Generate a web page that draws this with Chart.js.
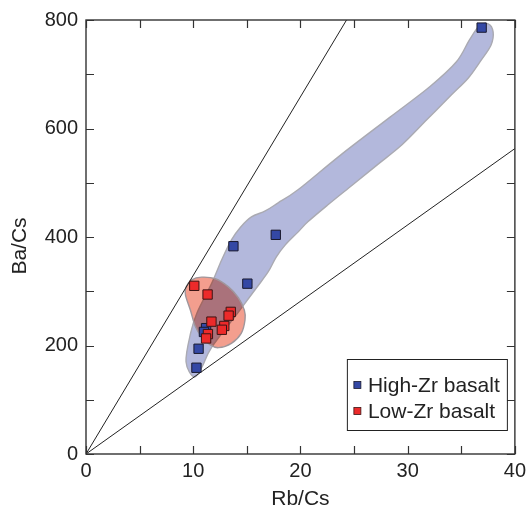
<!DOCTYPE html>
<html>
<head>
<meta charset="utf-8">
<script src="https://cdn.jsdelivr.net/npm/chart.js@4/dist/chart.umd.min.js"></script>
<style>
  html, body { margin: 0; padding: 0; background: #fff; }
  canvas { display: block; }
</style>
</head>
<body>
<canvas id="myChart" width="531" height="510"></canvas>
<script>
// samples
const highZrX = [36.9, 17.7, 13.75, 15.05, 11.2, 11.0, 10.5, 10.3];
const highZrY = [786, 404, 383, 314, 232, 225, 194, 159];
const lowZrX = [10.1, 11.34, 13.5, 13.3, 11.7, 12.9, 12.67, 11.37, 11.2];
const lowZrY = [310, 294, 262, 255, 244, 236, 229, 221, 213];

// outlines of the two fields (Rb/Cs, Ba/Cs)
const highFieldX = [10.07, 9.33, 9.76, 10.35, 11.73, 12.66, 13.58, 14.41, 15.43, 16.72, 17.92, 19.77, 23.74, 28.36, 32.06, 34.55, 35.75, 36.67, 37.51, 37.97, 37.78, 36.86, 35.66, 34.09, 31.78, 29.47, 27.16, 24.85, 22.54, 20.69, 19.77, 18.57, 17.74, 17.0, 15.89, 14.23, 11.73, 10.81];
const highFieldY = [142, 170, 223, 260, 315, 358, 395, 418, 437, 448, 463, 487, 551, 621, 677, 723, 763, 789, 793, 778, 754, 726, 693, 662, 616, 570, 533, 496, 459, 428, 409, 385, 363, 336, 306, 262, 197, 160];
const lowFieldX = [10.79, 12.06, 13.29, 14.21, 14.77, 14.83, 14.49, 13.56, 12.36, 11.59, 10.79, 10.2, 9.74, 9.28, 9.33, 9.86];
const lowFieldY = [326, 323, 308, 288, 265, 247, 223, 204, 196, 201, 216, 235, 265, 293, 308, 321];

// reference lines through the origin
const steepLineX = [0, 24.3];
const steepLineY = [0, 800];
const flatLineX = [0, 40];
const flatLineY = [0, 563];

const xTicks = [0, 10, 20, 30, 40];
const yTicks = [0, 200, 400, 600, 800];

const FONT = "'Liberation Sans', Arial, Helvetica, sans-serif";

function toPoints(xs, ys) {
  return xs.map((x, i) => ({ x: x, y: ys[i] }));
}

// closed smooth path (catmull-rom) through the outline
function traceField(ctx, xs, ys, sx, sy) {
  const pts = xs.map((x, i) => [sx.getPixelForValue(x), sy.getPixelForValue(ys[i])]);
  const n = pts.length;
  ctx.beginPath();
  ctx.moveTo(pts[0][0], pts[0][1]);
  for (let i = 0; i < n; i++) {
    const p0 = pts[(i - 1 + n) % n];
    const p1 = pts[i];
    const p2 = pts[(i + 1) % n];
    const p3 = pts[(i + 2) % n];
    ctx.bezierCurveTo(
      p1[0] + (p2[0] - p0[0]) / 6, p1[1] + (p2[1] - p0[1]) / 6,
      p2[0] - (p3[0] - p1[0]) / 6, p2[1] - (p3[1] - p1[1]) / 6,
      p2[0], p2[1]
    );
  }
  ctx.closePath();
}

const fieldsPlugin = {
  id: "fields",
  beforeDatasetsDraw(chart) {
    const { ctx, chartArea, scales } = chart;
    ctx.save();
    ctx.beginPath();
    ctx.rect(chartArea.left, chartArea.top, chartArea.right - chartArea.left, chartArea.bottom - chartArea.top);
    ctx.clip();

    traceField(ctx, highFieldX, highFieldY, scales.x, scales.y);
    ctx.fillStyle = "rgb(179,184,220)";
    ctx.fill();
    ctx.strokeStyle = "rgb(170,170,178)";
    ctx.lineWidth = 1.4;
    ctx.stroke();

    traceField(ctx, lowFieldX, lowFieldY, scales.x, scales.y);
    ctx.globalCompositeOperation = "multiply";
    ctx.fillStyle = "rgb(243,158,142)";
    ctx.fill();
    ctx.globalCompositeOperation = "source-over";
    ctx.strokeStyle = "rgb(160,150,155)";
    ctx.lineWidth = 1.4;
    ctx.stroke();
    ctx.restore();
  },
};

// frame, inward ticks, y title, legend box
const framePlugin = {
  id: "frame",
  afterDatasetsDraw(chart) {
    const { ctx, chartArea, scales } = chart;
    const { left, right, top, bottom } = chartArea;
    const len = 8;
    ctx.save();
    ctx.strokeStyle = "#333";
    ctx.lineWidth = 1.2;
    ctx.beginPath();
    scales.x.ticks.forEach((t) => {
      const px = Math.round(scales.x.getPixelForValue(t.value)) + 0.5;
      ctx.moveTo(px, bottom); ctx.lineTo(px, bottom - len);
      ctx.moveTo(px, top); ctx.lineTo(px, top + len);
    });
    scales.y.ticks.forEach((t) => {
      const py = Math.round(scales.y.getPixelForValue(t.value)) + 0.5;
      ctx.moveTo(left, py); ctx.lineTo(left + len, py);
      ctx.moveTo(right, py); ctx.lineTo(right - len, py);
    });
    ctx.stroke();
    ctx.lineWidth = 1.4;
    ctx.strokeRect(left, top, right - left, bottom - top);

    // y axis title
    ctx.fillStyle = "#222";
    ctx.font = "21px " + FONT;
    ctx.textAlign = "center";
    ctx.textBaseline = "middle";
    ctx.translate(20, 246);
    ctx.rotate(-Math.PI / 2);
    ctx.fillText("Ba/Cs", 0, 0);
    ctx.restore();

    // legend
    ctx.save();
    const bx = right - 168, by = bottom - 95, bw = 160, bh = 71;
    ctx.fillStyle = "#fff";
    ctx.fillRect(bx, by, bw, bh);
    ctx.strokeStyle = "#222";
    ctx.lineWidth = 1;
    ctx.strokeRect(bx + 0.5, by + 0.5, bw, bh);
    ctx.font = "21px " + FONT;
    ctx.textAlign = "left";
    ctx.textBaseline = "middle";
    chart.data.datasets.slice(0, 2).forEach((ds, i) => {
      const cy = by + 26 + i * 26;
      ctx.fillStyle = ds.backgroundColor;
      ctx.fillRect(bx + 7, cy - 3.5, 7, 7);
      ctx.strokeStyle = ds.borderColor;
      ctx.lineWidth = 0.8;
      ctx.strokeRect(bx + 7, cy - 3.5, 7, 7);
      ctx.fillStyle = "#222";
      ctx.fillText(ds.label, bx + 21, cy + 1);
    });
    ctx.restore();
  },
};

function displayChart() {
  const data = {
    datasets: [
      {
        label: "High-Zr basalt",
        data: toPoints(highZrX, highZrY),
        backgroundColor: "rgb(52,72,165)",
        borderColor: "rgb(25,25,45)",
        borderWidth: 1,
        pointStyle: "rect",
        pointRadius: 6.6,
        order: 2,
      },
      {
        label: "Low-Zr basalt",
        data: toPoints(lowZrX, lowZrY),
        backgroundColor: "rgb(236,42,42)",
        borderColor: "rgb(60,20,20)",
        borderWidth: 1,
        pointStyle: "rect",
        pointRadius: 6.6,
        order: 1,
      },
      {
        label: "steep",
        type: "line",
        data: toPoints(steepLineX, steepLineY),
        borderColor: "#222",
        borderWidth: 1,
        pointRadius: 0,
        fill: false,
        order: 3,
      },
      {
        label: "flat",
        type: "line",
        data: toPoints(flatLineX, flatLineY),
        borderColor: "#222",
        borderWidth: 1,
        pointRadius: 0,
        fill: false,
        order: 3,
      },
    ],
  };

  const config = {
    type: "scatter",
    data: data,
    options: {
      responsive: false,
      animation: false,
      devicePixelRatio: 1,
      layout: { padding: { top: 20, right: 12, left: 0, bottom: 0 } },
      plugins: { legend: { display: false }, tooltip: { enabled: false } },
      scales: {
        x: {
          type: "linear",
          min: 0,
          max: 40,
          grid: { display: false, drawTicks: false },
          border: { display: false },
          ticks: {
            stepSize: 5,
            autoSkip: false,
            maxRotation: 0,
            padding: 5,
            color: "#222",
            font: { family: FONT, size: 20 },
            callback: (v) => (xTicks.includes(v) ? v : ""),
          },
          title: {
            display: true,
            text: "Rb/Cs",
            color: "#222",
            font: { family: FONT, size: 21, lineHeight: 1 },
            padding: { top: 0, bottom: 0 },
          },
          afterFit: (scale) => { scale.height = 56; },
        },
        y: {
          type: "linear",
          min: 0,
          max: 800,
          grid: { display: false, drawTicks: false },
          border: { display: false },
          ticks: {
            stepSize: 100,
            autoSkip: false,
            padding: 8,
            color: "#222",
            font: { family: FONT, size: 20 },
            callback: (v) => (yTicks.includes(v) ? v : ""),
          },
          afterFit: (scale) => { scale.width = 86; },
        },
      },
    },
    plugins: [fieldsPlugin, framePlugin],
  };
  new Chart(document.getElementById("myChart"), config);
}
displayChart();
</script>
</body>
</html>
